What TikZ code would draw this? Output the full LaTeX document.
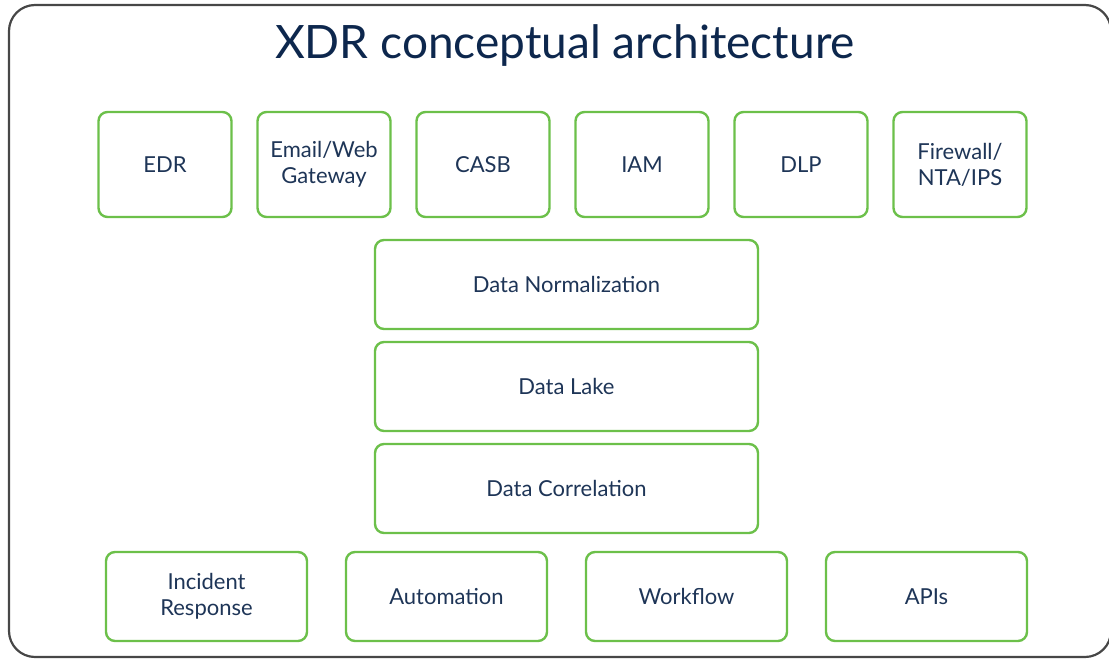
\documentclass[tikz,border=0pt]{standalone}
\usepackage{fontspec}
\setmainfont{Lato}
\definecolor{navy}{HTML}{0D274D}
\definecolor{txt}{HTML}{1E3557}
\definecolor{grn}{HTML}{6CC04A}
\definecolor{frame}{HTML}{474747}
\begin{document}
\begin{tikzpicture}[x=1pt,y=-1pt,
  gbox/.style={draw=grn,line width=2.4pt,rounded corners=9pt,fill=white,
    text=txt,font=\fontsize{22}{26}\selectfont,align=center,inner sep=0pt},
  topbox/.style={gbox,minimum width=133pt,minimum height=105pt},
  midbox/.style={gbox,minimum width=383pt,minimum height=89pt},
  botbox/.style={gbox,minimum width=201pt,minimum height=89pt}]
\useasboundingbox (0,0) rectangle (1109,659);
\draw[frame,line width=2.2pt,rounded corners=26pt] (9,5) rectangle (1111,657);
\node[text=navy,font=\fontsize{46}{52}\selectfont] (title) at (565,46) {XDR conceptual architecture};
\node[topbox] (edr) at (165,164.5) {EDR};
\node[topbox] (email) at (324,164.5) {Email/Web\\Gateway};
\node[topbox] (casb) at (483,164.5) {CASB};
\node[topbox] (iam) at (642,164.5) {IAM};
\node[topbox] (dlp) at (801,164.5) {DLP};
\node[topbox] (fw) at (960,164.5) {Firewall/\\NTA/IPS};
\node[midbox] (norm) at (566.5,284.5) {Data Normalization};
\node[midbox] (lake) at (566.5,386.5) {Data Lake};
\node[midbox] (corr) at (566.5,488.5) {Data Correlation};
\node[botbox] (ir) at (206.5,596.5) {Incident\\Response};
\node[botbox] (auto) at (446.5,596.5) {Automation};
\node[botbox] (wf) at (686.5,596.5) {Workflow};
\node[botbox] (api) at (926.5,596.5) {APIs};
\end{tikzpicture}
\end{document}
